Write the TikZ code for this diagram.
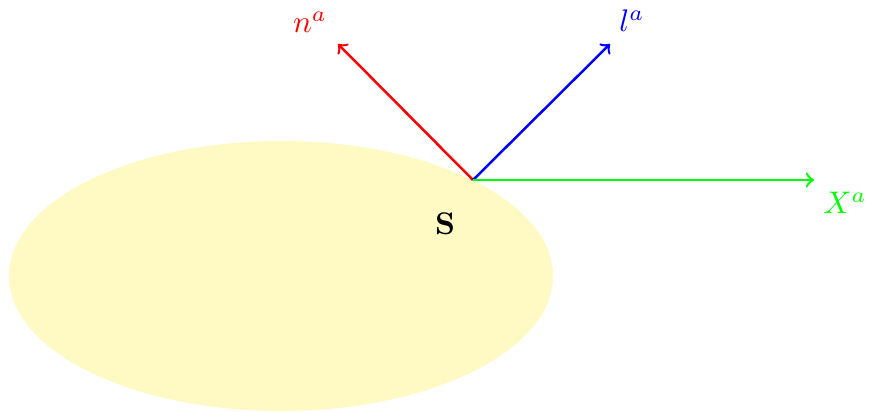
\documentclass[tikz,border=0pt]{standalone}
\usetikzlibrary{arrows}
\definecolor{surf}{RGB}{255,249,196}
\begin{document}
\begin{tikzpicture}[x=0.32pt,y=-0.32pt,
  vec/.style={->,line width=0.8pt},
  lab/.style={inner sep=0pt}]
\useasboundingbox (0,0) rectangle (870,412);
\fill[surf] (281,276) ellipse [x radius=272, y radius=135];
\coordinate (o) at (473,180);
\coordinate (ntip) at (338,44);
\coordinate (ltip) at (610,44);
\coordinate (xtip) at (814,180);
\draw[vec,red] (o) -- (ntip);
\draw[vec,blue] (o) -- (ltip);
\draw[vec,green] (o) -- (xtip);
\node[lab,red] (nl) at (310,22) {$n^a$};
\node[lab,blue] (ll) at (632,21) {$l^a$};
\node[lab,green] (xl) at (845,203) {$X^a$};
\node[lab] (s) at (445,224) {$\mathbf{S}$};
\end{tikzpicture}
\end{document}
